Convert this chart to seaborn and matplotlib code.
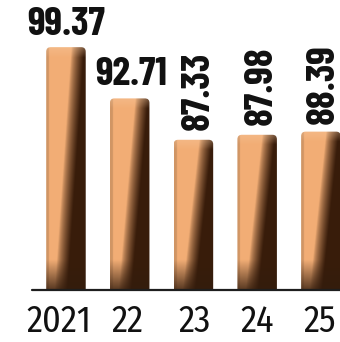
import numpy as np
import pandas as pd
import seaborn as sns
import matplotlib
matplotlib.use("Agg")
import matplotlib.pyplot as plt
from matplotlib.patches import FancyBboxPatch
import matplotlib.transforms as mtransforms

years = ["2021", "22", "23", "24", "25"]
values = [99.37, 92.71, 87.33, 87.98, 88.39]
value_labels = ["99.37", "92.71", "87.33", "87.98", "88.39"]

sns.set_style("white")
plt.rcParams['font.family'] = ['Fira Sans Condensed', 'DejaVu Sans']
VAL_FONT = ['Barlow Condensed', 'Fira Sans Condensed', 'DejaVu Sans']

YMIN, YMAX = 67.8, 105.5
PXU = 290 / (YMAX - YMIN)
fig = plt.figure(figsize=(3.4, 3.42), dpi=100)
fig.patch.set_facecolor("white")
ax = fig.add_axes([0, 0.152, 1, 0.848])
df = pd.DataFrame({"year": years, "value": values})
sns.barplot(data=df, x="year", y="value", ax=ax, width=0.62,
            color="#E9A06A", saturation=1)

L = np.array([0.95, 0.68, 0.46])
D = np.array([0.22, 0.11, 0.04])
nx, ny = 80, 240
u = np.linspace(0, 1, nx)

for p, v in zip(ax.patches, values):
    x0, w = p.get_x(), p.get_width()
    p.set_visible(False)
    fb = FancyBboxPatch((x0, 0), w, v, boxstyle="round,pad=0,rounding_size=0.07",
                        mutation_aspect=8.3, facecolor="none", edgecolor="none")
    ax.add_patch(fb)
    ys = np.linspace(v, YMIN, ny)
    t = (ys - YMIN) / (v - YMIN)
    ub = 0.22 + 0.42 * t
    s = np.clip((u[None, :] - ub[:, None]) / 0.32, 0, 1) ** 0.7
    img = L[None, None, :] * (1 - s[..., None]) + D[None, None, :] * s[..., None]
    edge = np.where(u < 0.07, 0.86, 1.0)
    img = img * edge[None, :, None]
    d = (ys - YMIN) * PXU
    wb = np.clip(1 - d / 30.0, 0, 1) * 0.8
    img = img * (1 - wb[:, None, None]) + np.array([0.2, 0.11, 0.05])[None, None, :] * wb[:, None, None]
    dt = (v - ys) * PXU
    wt = np.clip(1 - dt / 10.0, 0, 1) * 0.35
    img = img * (1 - wt[:, None, None]) + np.array([0.97, 0.80, 0.64])[None, None, :] * wt[:, None, None]
    im = ax.imshow(np.clip(img, 0, 1), extent=[x0, x0 + w, YMIN, v], aspect="auto",
                   interpolation="bilinear", zorder=2)
    im.set_clip_path(fb)

ax.set_xlim(-1.035, 4.30)
ax.set_ylim(YMIN, YMAX)
for s_ in ax.spines.values():
    s_.set_visible(False)
ax.set_yticks([])
ax.set_xlabel("")
ax.set_ylabel("")
ax.axhline(YMIN, xmin=32 / 340, xmax=1, color="#1e1e1e", lw=1.6, clip_on=False, zorder=3)

ax.tick_params(axis="x", length=0, pad=10, labelsize=26)
offsets = [-7, -2, 1, 0, -1]
for lab, off in zip(ax.get_xticklabels(), offsets):
    lab.set_transform(lab.get_transform() + mtransforms.ScaledTranslation(off / 100, 0, fig.dpi_scale_trans))
    lab.set_color("#111111")

# value labels
fs = 29
ax.text(0, values[0] + 1.6, value_labels[0], ha="center", va="baseline", family=VAL_FONT,
        fontsize=fs, fontweight="bold", color="#111111")
ax.text(1.02, values[1] + 1.75, value_labels[1], ha="center", va="baseline", family=VAL_FONT,
        fontsize=fs, fontweight="bold", color="#111111")
for i, dx, gap in [(2, 0.08, 1.3), (3, 0.06, 1.3), (4, 0.03, 1.0)]:
    ax.text(i + dx, values[i] + gap, value_labels[i], ha="center", va="bottom", family=VAL_FONT,
            rotation=90, fontsize=fs, fontweight="bold", color="#111111")

fig.savefig("out.png", dpi=100, facecolor="white")
